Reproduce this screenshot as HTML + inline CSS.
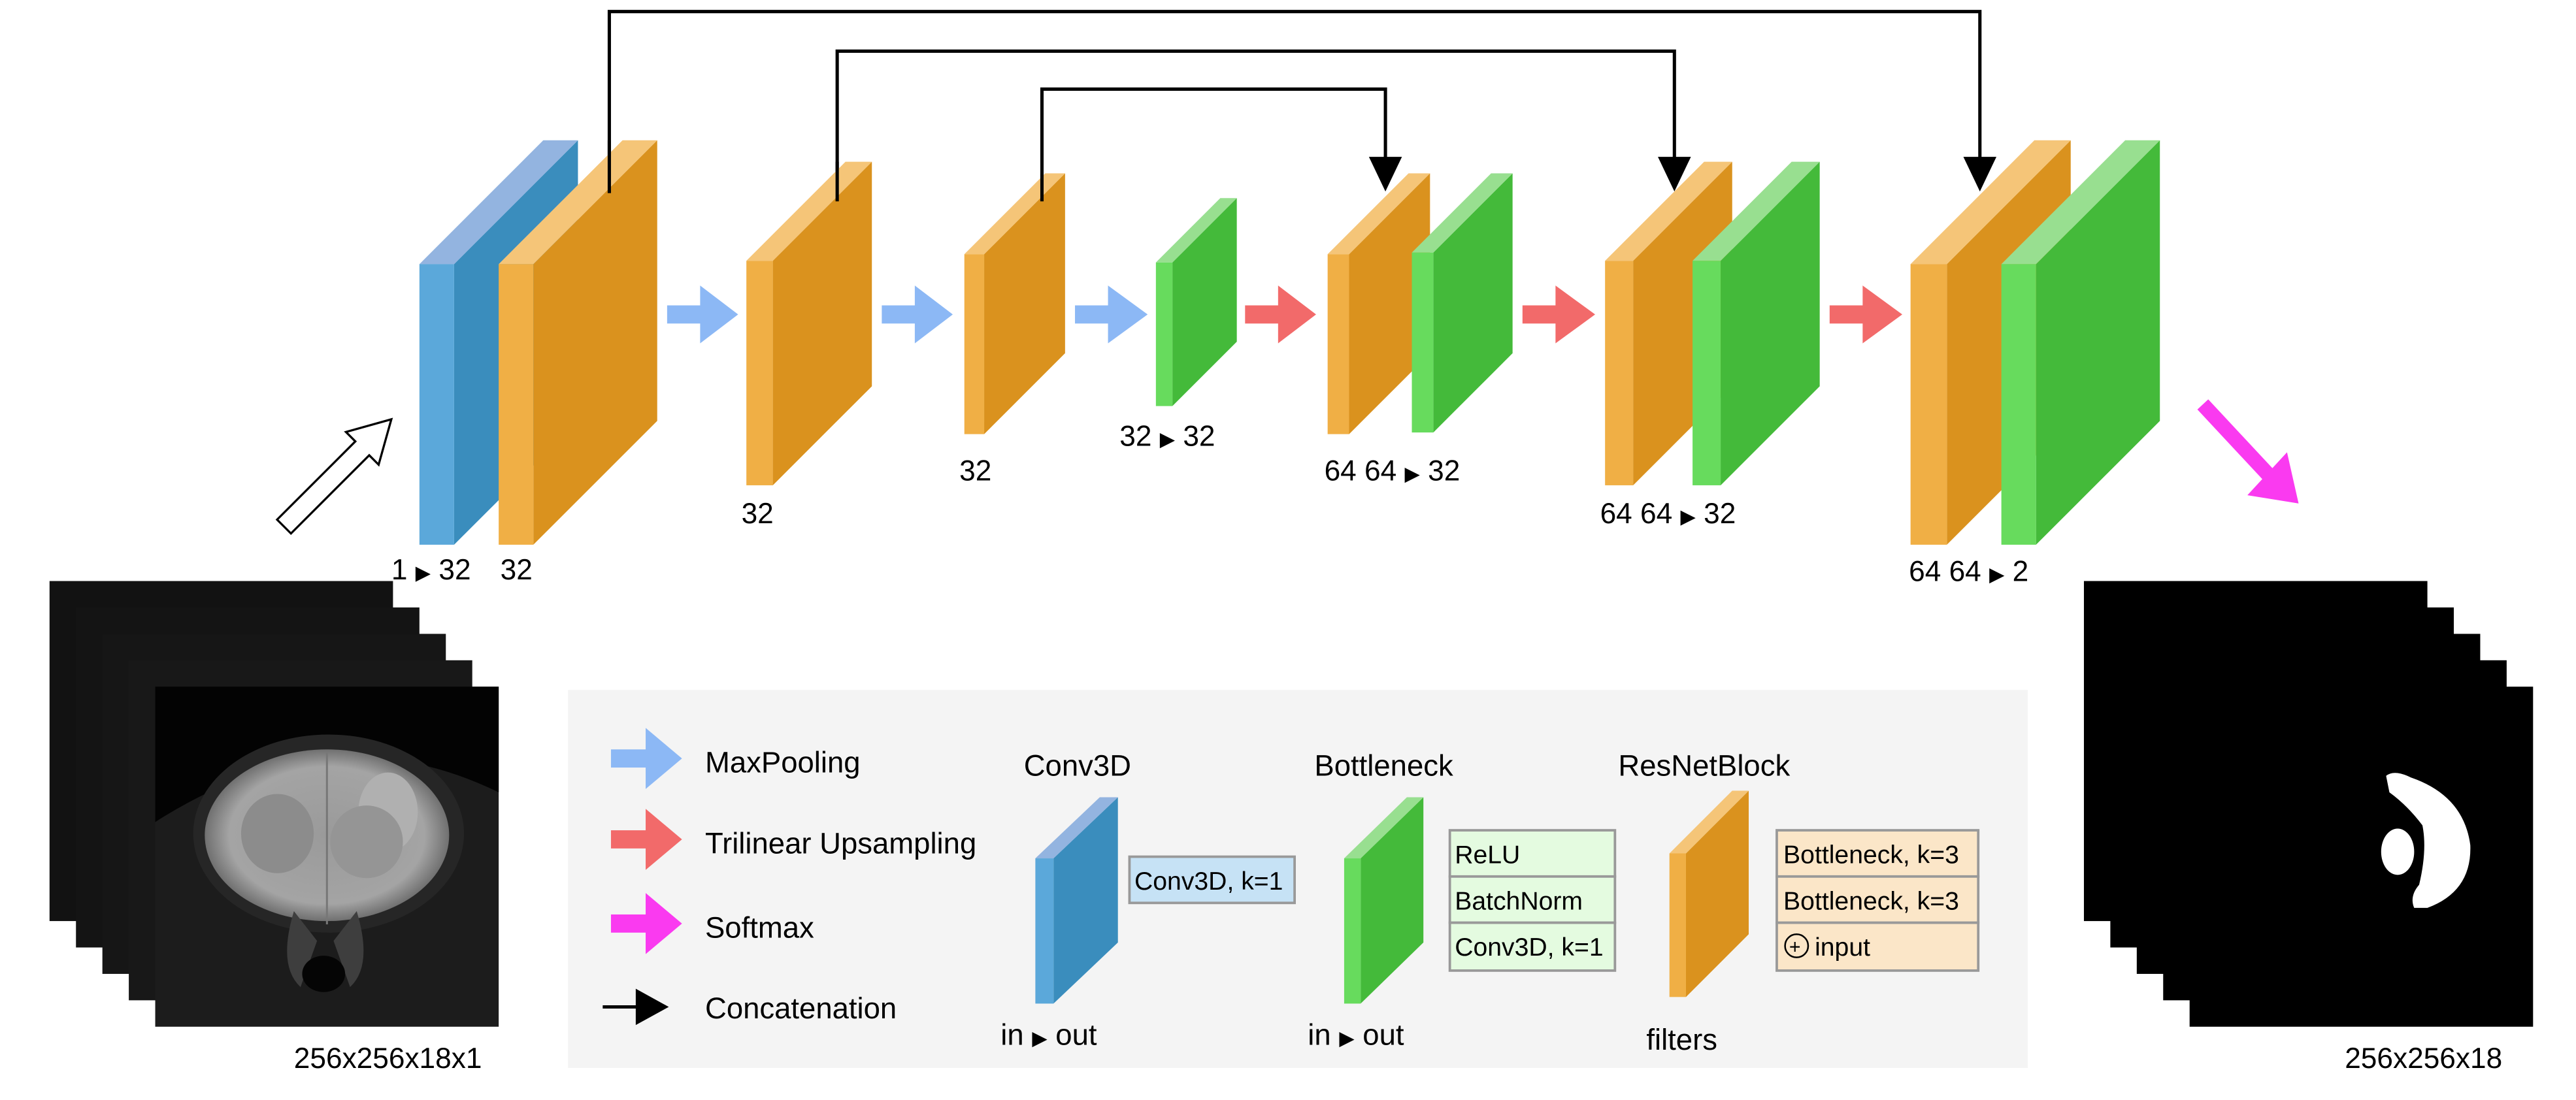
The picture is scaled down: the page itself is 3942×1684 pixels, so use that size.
<!DOCTYPE html>
<html><head><meta charset="utf-8"><style>
html,body{margin:0;padding:0;background:#fff;}
svg{display:block;}
text{font-family:"Liberation Sans","DejaVu Sans",sans-serif;fill:#000;}
</style></head><body>
<svg width="3942" height="1684" viewBox="0 0 1560 666.4" preserveAspectRatio="none" xmlns="http://www.w3.org/2000/svg">
<defs>
<radialGradient id="brain" cx="0.5" cy="0.5" r="0.5">
<stop offset="0" stop-color="#9a9a9a"/><stop offset="0.8" stop-color="#a4a4a4"/><stop offset="1" stop-color="#707070"/>
</radialGradient>
</defs>
<rect width="1560" height="666.4" fill="#fff"/>

<g fill="none" stroke="#000" stroke-width="2">
<polyline points="369,117 369,7 1199,7 1199,98"/>
<polyline points="507,122 507,31 1014,31 1014,98"/>
<polyline points="631,122 631,54 839,54 839,98"/>
</g>
<g fill="#000">
<polygon points="1189,95 1209,95 1199,116"/>
<polygon points="1004,95 1024,95 1014,116"/>
<polygon points="829,95 849,95 839,116"/>
</g>

<g>
<polygon points="275,160 350,85 350,255 275,330" fill="#3A8DBD"/>
<polygon points="254,160 329,85 350,85 275,160" fill="#93B4E0"/>
<rect x="254" y="160" width="21" height="170" fill="#5BA8DA"/>
<polygon points="323,160 398,85 398,255 323,330" fill="#DA921E"/>
<polygon points="302,160 377,85 398,85 323,160" fill="#F5C578"/>
<rect x="302" y="160" width="21" height="170" fill="#F0AF45"/>
<polygon points="468,158 528,98 528,234 468,294" fill="#DA921E"/>
<polygon points="452,158 512,98 528,98 468,158" fill="#F5C578"/>
<rect x="452" y="158" width="16" height="136" fill="#F0AF45"/>
<polygon points="596,154 645,105 645,214 596,263" fill="#DA921E"/>
<polygon points="584,154 633,105 645,105 596,154" fill="#F5C578"/>
<rect x="584" y="154" width="12" height="109" fill="#F0AF45"/>
<polygon points="710,159 749,120 749,207 710,246" fill="#44BA3A"/>
<polygon points="700,159 739,120 749,120 710,159" fill="#98DF90"/>
<rect x="700" y="159" width="10" height="87" fill="#67DB5D"/>
<polygon points="817,154 866,105 866,214 817,263" fill="#DA921E"/>
<polygon points="804,154 853,105 866,105 817,154" fill="#F5C578"/>
<rect x="804" y="154" width="13" height="109" fill="#F0AF45"/>
<polygon points="868,153 916,105 916,214 868,262" fill="#44BA3A"/>
<polygon points="855,153 903,105 916,105 868,153" fill="#98DF90"/>
<rect x="855" y="153" width="13" height="109" fill="#67DB5D"/>
<polygon points="989,158 1049,98 1049,234 989,294" fill="#DA921E"/>
<polygon points="972,158 1032,98 1049,98 989,158" fill="#F5C578"/>
<rect x="972" y="158" width="17" height="136" fill="#F0AF45"/>
<polygon points="1042,158 1102,98 1102,234 1042,294" fill="#44BA3A"/>
<polygon points="1025,158 1085,98 1102,98 1042,158" fill="#98DF90"/>
<rect x="1025" y="158" width="17" height="136" fill="#67DB5D"/>
<polygon points="1179,160 1254,85 1254,255 1179,330" fill="#DA921E"/>
<polygon points="1157,160 1232,85 1254,85 1179,160" fill="#F5C578"/>
<rect x="1157" y="160" width="22" height="170" fill="#F0AF45"/>
<polygon points="1233,160 1308,85 1308,255 1233,330" fill="#44BA3A"/>
<polygon points="1212,160 1287,85 1308,85 1233,160" fill="#98DF90"/>
<rect x="1212" y="160" width="21" height="170" fill="#67DB5D"/>
</g>

<g stroke="#000" stroke-width="2">
<line x1="369" y1="85" x2="369" y2="117"/>
<line x1="507" y1="98" x2="507" y2="122"/>
<line x1="631" y1="105" x2="631" y2="122"/>
</g>

<g fill="#8CB8F5">
<rect x="404" y="185" width="21" height="11"/><polygon points="424,173 447,190.5 424,208"/>
<rect x="534" y="185" width="21" height="11"/><polygon points="554,173 577,190.5 554,208"/>
<rect x="651" y="185" width="21" height="11"/><polygon points="671,173 695,190.5 671,208"/>
</g>
<g fill="#F26A6A">
<rect x="754" y="185" width="21" height="11"/><polygon points="774,173 797,190.5 774,208"/>
<rect x="922" y="185" width="21" height="11"/><polygon points="942,173 966,190.5 942,208"/>
<rect x="1108" y="185" width="21" height="11"/><polygon points="1128,173 1152,190.5 1128,208"/>
</g>
<line x1="1334" y1="245" x2="1375" y2="289" stroke="#FA3AF0" stroke-width="9"/>
<polygon points="1361,300 1392,305 1385,274" fill="#FA3AF0"/>

<!-- input hollow arrow -->
<polygon points="167.8,314.8 215.2,267.4 209.5,261.7 237,254 229.3,281.5 223.6,275.8 176.2,323.2" fill="#fff" stroke="#000" stroke-width="1.3"/>

<g font-size="17.5">
<text x="237" y="351">1 <tspan font-size="12" font-family="DejaVu Sans">▶</tspan> 32</text>
<text x="303" y="351">32</text>
<text x="449" y="317">32</text>
<text x="581" y="291">32</text>
<text x="678" y="270">32 <tspan font-size="12" font-family="DejaVu Sans">▶</tspan> 32</text>
<text x="802" y="291">64  64 <tspan font-size="12" font-family="DejaVu Sans">▶</tspan> 32</text>
<text x="969" y="317">64  64 <tspan font-size="12" font-family="DejaVu Sans">▶</tspan> 32</text>
<text x="1156" y="352">64  64 <tspan font-size="12" font-family="DejaVu Sans">▶</tspan> 2</text>
</g>

<!-- MRI stack -->
<g>
<rect x="30" y="352" width="208" height="206" fill="#121212"/>
<rect x="46" y="368" width="208" height="206" fill="#141414"/>
<rect x="62" y="384" width="208" height="206" fill="#161616"/>
<rect x="78" y="400" width="208" height="206" fill="#181818"/>
<rect x="94" y="416" width="208" height="206" fill="#1c1c1c"/>
<path d="M94,416 H302 V480 Q200,430 94,498 Z" fill="#030303"/>
<ellipse cx="199" cy="505" rx="82" ry="60" fill="#262626"/>
<ellipse cx="198" cy="506" rx="74" ry="52" fill="url(#brain)"/>
<ellipse cx="235" cy="492" rx="18" ry="24" fill="#b0b0b0"/>
<ellipse cx="168" cy="505" rx="22" ry="24" fill="#8c8c8c"/>
<ellipse cx="222" cy="510" rx="22" ry="22" fill="#959595"/>
<line x1="198" y1="456" x2="198" y2="560" stroke="#777" stroke-width="1.2"/>
<path d="M178,552 Q168,585 182,598 L192,570 Z M216,552 Q226,585 212,598 L202,570Z" fill="#3e3e3e"/>
<ellipse cx="196" cy="590" rx="13" ry="11" fill="#050505"/>
</g>
<text x="178" y="647" font-size="17.5">256x256x18x1</text>

<g fill="#000">
<rect x="1262" y="352" width="208" height="206"/>
<rect x="1278" y="368" width="208" height="206"/>
<rect x="1294" y="384" width="208" height="206"/>
<rect x="1310" y="400" width="208" height="206"/>
<rect x="1326" y="416" width="208" height="206"/>
</g>
<path d="M1445,470 Q1450,466 1460,471 Q1492,482 1496,512 Q1497,540 1470,550 L1462,550 Q1459,543 1465,536 Q1470,515 1467,500 Q1458,488 1447,480 Z" fill="#fff"/>
<ellipse cx="1452" cy="516" rx="10" ry="14" fill="#fff"/>
<text x="1420" y="647" font-size="17.5">256x256x18</text>

<rect x="344" y="418" width="884" height="229" fill="#F4F4F4"/>
<g font-size="18">
<rect x="370" y="454" width="22" height="11" fill="#8CB8F5"/><polygon points="391,441 413,459.5 391,478" fill="#8CB8F5"/>
<text x="427" y="468">MaxPooling</text>
<rect x="370" y="503" width="22" height="11" fill="#F26A6A"/><polygon points="391,490 413,508.5 391,527" fill="#F26A6A"/>
<text x="427" y="517">Trilinear Upsampling</text>
<rect x="370" y="554" width="22" height="11" fill="#FA3AF0"/><polygon points="391,541 413,559.5 391,578" fill="#FA3AF0"/>
<text x="427" y="568">Softmax</text>
<line x1="365" y1="610" x2="392" y2="610" stroke="#000" stroke-width="2"/><polygon points="385,599 405,610 385,621" fill="#000"/>
<text x="427" y="617">Concatenation</text>
<text x="620" y="470">Conv3D</text>
<text x="796" y="470">Bottleneck</text>
<text x="980" y="470">ResNetBlock</text>
<text x="606" y="633">in <tspan font-size="12" font-family="DejaVu Sans">▶</tspan> out</text>
<text x="792" y="633">in <tspan font-size="12" font-family="DejaVu Sans">▶</tspan> out</text>
<text x="997" y="636">filters</text>
</g>
<polygon points="638,520 677,483 677,571 638,608" fill="#3A8DBD"/>
<polygon points="627,520 666,483 677,483 638,520" fill="#93B4E0"/>
<rect x="627" y="520" width="11" height="88" fill="#5BA8DA"/>
<polygon points="824,520 862,483 862,571 824,608" fill="#44BA3A"/>
<polygon points="814,520 852,483 862,483 824,520" fill="#98DF90"/>
<rect x="814" y="520" width="10" height="88" fill="#67DB5D"/>
<polygon points="1021,517 1059,479 1059,566 1021,604" fill="#DA921E"/>
<polygon points="1011,517 1049,479 1059,479 1021,517" fill="#F5C578"/>
<rect x="1011" y="517" width="10" height="87" fill="#F0AF45"/>
<g font-size="15.5" stroke-width="1.5">
<rect x="684" y="519" width="100" height="28" fill="#C6E2F5" stroke="#999"/>
<text x="687" y="539" stroke="none">Conv3D, k=1</text>
<rect x="878" y="503" width="100" height="28" fill="#E4FBE0" stroke="#999"/>
<rect x="878" y="531" width="100" height="28" fill="#E4FBE0" stroke="#999"/>
<rect x="878" y="559" width="100" height="29" fill="#E4FBE0" stroke="#999"/>
<text x="881" y="523" stroke="none">ReLU</text>
<text x="881" y="551" stroke="none">BatchNorm</text>
<text x="881" y="579" stroke="none">Conv3D, k=1</text>
<rect x="1076" y="503" width="122" height="28" fill="#FBE6C8" stroke="#999"/>
<rect x="1076" y="531" width="122" height="28" fill="#FBE6C8" stroke="#999"/>
<rect x="1076" y="559" width="122" height="29" fill="#FBE6C8" stroke="#999"/>
<text x="1080" y="523" stroke="none">Bottleneck, k=3</text>
<text x="1080" y="551" stroke="none">Bottleneck, k=3</text>
<circle cx="1088" cy="573" r="7" fill="none" stroke="#000" stroke-width="1"/>
<text x="1083.5" y="577.5" font-size="12" stroke="none">+</text>
<text x="1099" y="579" stroke="none">input</text>
</g>
</svg>
</body></html>
